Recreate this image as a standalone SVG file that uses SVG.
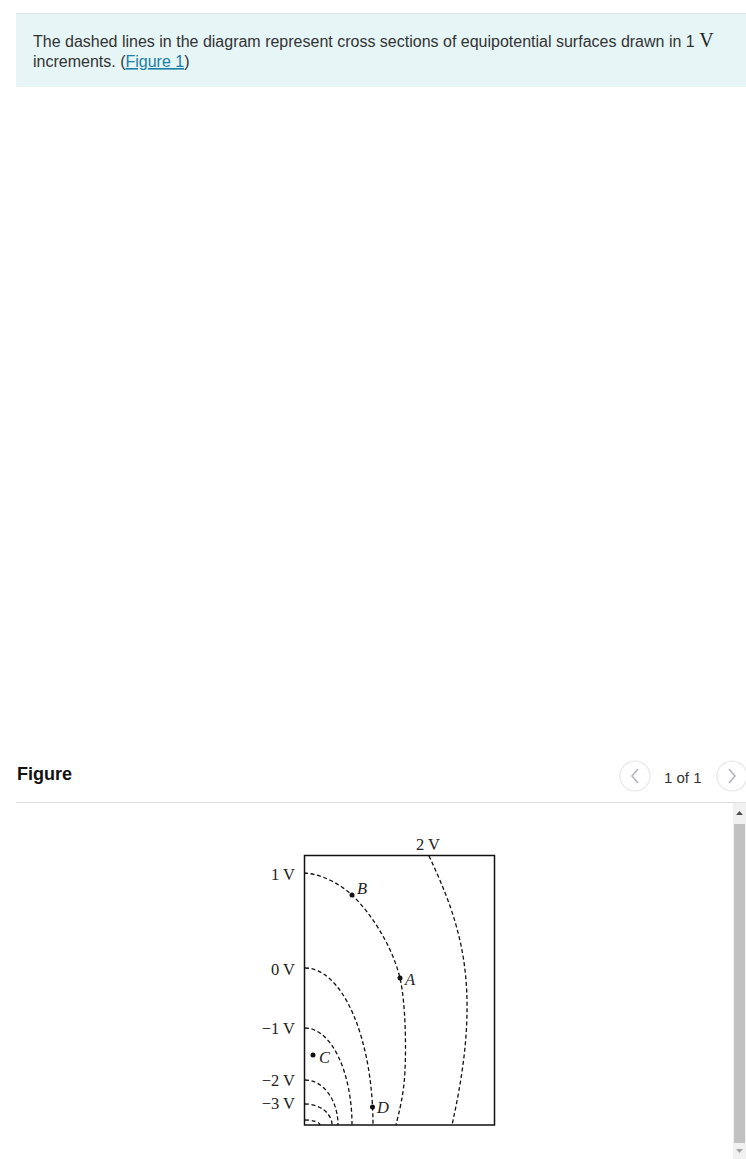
<svg xmlns="http://www.w3.org/2000/svg" width="746" height="1159" viewBox="0 0 746 1159">
<style>
.body{font-family:"Liberation Sans",Arial,sans-serif;font-size:16px;fill:#333}
.serif{font-family:"Liberation Serif","Times New Roman",serif;font-size:16.5px;fill:#222}
.it{font-family:"Liberation Serif","Times New Roman",serif;font-style:italic;font-size:16.5px;fill:#222}
.eq{fill:none;stroke:#111;stroke-width:1.3;stroke-dasharray:4 2.6}
.dot{fill:#111}
</style>
<rect width="746" height="1159" fill="#fff"/>
<g id="header">
<rect x="16" y="13" width="730" height="74" fill="#e6f5f6"/>
<line x1="16" y1="13.5" x2="746" y2="13.5" stroke="#dde3e4"/>
<text class="body" x="33" y="47">The dashed lines in the diagram represent cross sections of equipotential surfaces drawn in 1 <tspan font-family="Liberation Serif, serif" font-size="20" fill="#222">V</tspan></text>
<text class="body" x="33" y="67">increments. (<tspan fill="#1a7ea6" text-decoration="underline">Figure 1</tspan>)</text>
</g>
<g id="figure-bar">
<text x="17" y="780" font-family="Liberation Sans,Arial,sans-serif" font-size="18" font-weight="bold" fill="#111">Figure</text>
<circle cx="635" cy="776" r="15" fill="#fff" stroke="#e6e6e6" stroke-width="1.2"/>
<path d="M638,769 L632,776 L638,783" fill="none" stroke="#b0b0b8" stroke-width="1.5"/>
<text x="664" y="783" font-family="Liberation Sans,Arial,sans-serif" font-size="15" fill="#333">1 of 1</text>
<circle cx="732" cy="776" r="15" fill="#fff" stroke="#e6e6e6" stroke-width="1.2"/>
<path d="M729,769 L735,776 L729,783" fill="none" stroke="#b0b0b8" stroke-width="1.5"/>
<line x1="16" y1="802.5" x2="746" y2="802.5" stroke="#dedede"/>
</g>
<g id="scrollbar">
<rect x="733" y="803" width="13" height="356" fill="#f1f1f1"/>
<rect x="734" y="824" width="11" height="319" fill="#c1c1c1"/>
<path d="M736,815 L739.5,811 L743,815 Z" fill="#505050"/>
<path d="M736,1149 L739.5,1153 L743,1149 Z" fill="#a3a3a3"/>
</g>
<g id="frame">
<rect x="304.5" y="855.5" width="190" height="269.5" fill="none" stroke="#111" stroke-width="1.5"/>
</g>
<g id="connectors">
<path class="eq" d="M304,873 C322,874 340,884 352,895 C370,912 392,945 400,978 C406,1005 406,1050 405,1070 C404,1095 399,1112 396,1125"/>
<path class="eq" d="M429,856 C445,890 462,930 466,980 C470,1030 462,1080 452,1125"/>
<path class="eq" d="M305,968 A68,157 0 0 1 373,1125"/>
<path class="eq" d="M305,1028 A47,97 0 0 1 352,1125"/>
<path class="eq" d="M305,1080 A33,45 0 0 1 338,1125"/>
<path class="eq" d="M305,1104 A27,21 0 0 1 332,1125"/>
<path class="eq" d="M305,1120 A15,5 0 0 1 320,1125"/>
</g>
<g id="labels">
<text class="serif" x="295" y="880" text-anchor="end">1 V</text>
<text class="serif" x="295" y="975" text-anchor="end">0 V</text>
<text class="serif" x="295" y="1034" text-anchor="end">−1 V</text>
<text class="serif" x="295" y="1086" text-anchor="end">−2 V</text>
<text class="serif" x="295" y="1109" text-anchor="end">−3 V</text>
<text class="serif" x="428" y="850" text-anchor="middle">2 V</text>
</g>
<g id="point-B"><circle class="dot" cx="352" cy="895" r="2.5"/><text class="it" x="357" y="894">B</text></g>
<g id="point-A"><circle class="dot" cx="400" cy="978" r="2.5"/><text class="it" x="405" y="985">A</text></g>
<g id="point-C"><circle class="dot" cx="313" cy="1055" r="2.5"/><text class="it" x="319" y="1063">C</text></g>
<g id="point-D"><circle class="dot" cx="372.5" cy="1107" r="2.5"/><text class="it" x="377" y="1113">D</text></g>
</svg>
